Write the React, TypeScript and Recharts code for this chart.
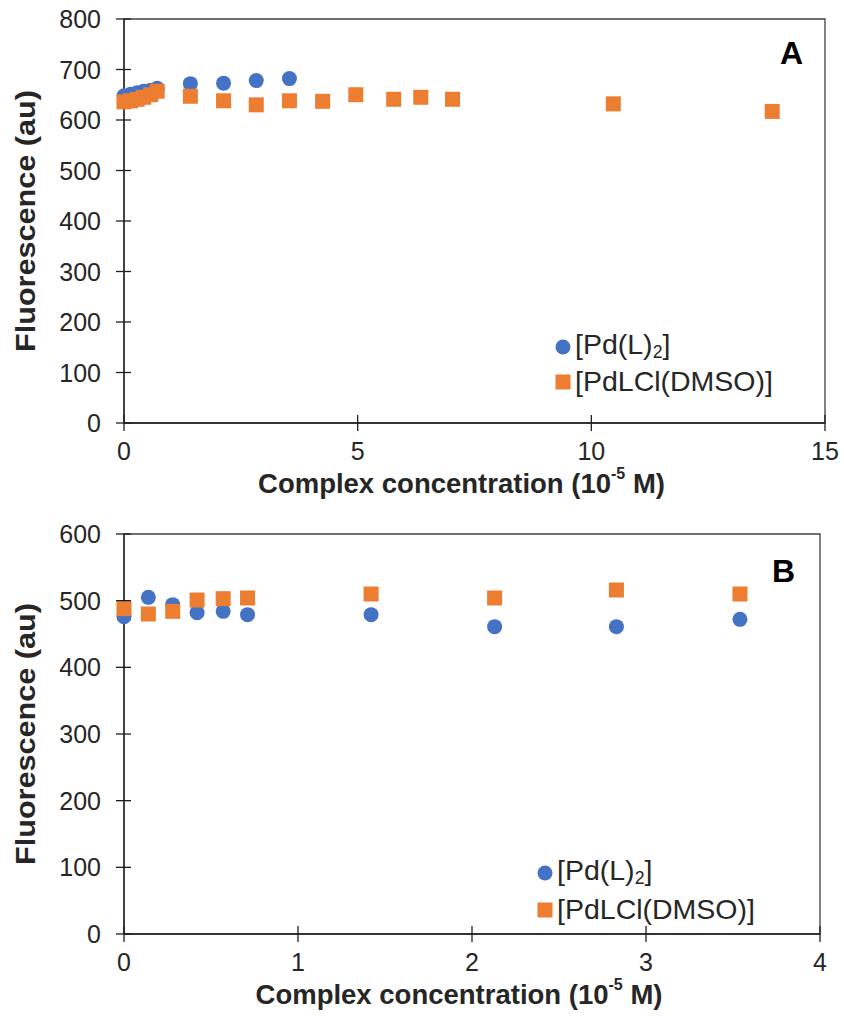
import React from "react";
import {
  ScatterChart,
  Scatter,
  XAxis,
  YAxis,
  ReferenceArea,
  Legend,
} from "recharts";

// complex concentration (10^-5 M) and fluorescence (au)
const concA_PdL2 = [0, 0.14, 0.28, 0.42, 0.57, 0.71, 1.42, 2.13, 2.83, 3.54];
const fluoA_PdL2 = [648, 651, 654, 657, 659, 663, 672, 673, 678, 682];
const concA_PdLCl = [
  0, 0.14, 0.28, 0.42, 0.57, 0.71, 1.42, 2.13, 2.83, 3.54, 4.25, 4.96, 5.77,
  6.35, 7.03, 10.47, 13.87,
];
const fluoA_PdLCl = [
  636, 638, 641, 645, 650, 657, 647, 638, 630, 638, 637, 650, 641, 645, 641,
  632, 617,
];

const concB = [0, 0.14, 0.28, 0.42, 0.57, 0.71, 1.42, 2.13, 2.83, 3.54];
const fluoB_PdL2 = [476, 505, 494, 482, 484, 479, 479, 461, 461, 472];
const fluoB_PdLCl = [488, 480, 484, 501, 503, 504, 510, 504, 516, 510];

const seriesNames = ["[Pd(L)2]", "[PdLCl(DMSO)]"];

const xTicksA = [0, 5, 10, 15];
const yTicksA = [0, 100, 200, 300, 400, 500, 600, 700, 800];
const xTicksB = [0, 1, 2, 3, 4];
const yTicksB = [0, 100, 200, 300, 400, 500, 600];

const FONT = "'Liberation Sans', Arial, sans-serif";
const BLUE = "#4472C4";
const ORANGE = "#ED7D31";
const AXIS = "#1f1f1f";
const FRAME = "#404040";
const TEXT = "#262626";

const toPoints = (xs: number[], ys: number[]) =>
  xs.map((x, i) => ({ x, y: ys[i] }));

const Dot = (p: any) => <circle cx={p.cx} cy={p.cy} r={7.5} fill={BLUE} />;
const Square = (p: any) => (
  <rect x={p.cx - 7.5} y={p.cy - 7.5} width={15} height={15} fill={ORANGE} />
);

const YTick = (p: any) => (
  <g>
    <line x1={p.x - 8} x2={p.x + 7} y1={p.y} y2={p.y} stroke={AXIS} strokeWidth={1.3} />
    <text
      x={p.x - 23}
      y={p.y}
      textAnchor="end"
      dominantBaseline="central"
      fontSize={25}
      fontFamily={FONT}
      fill={TEXT}
    >
      {p.payload.value}
    </text>
  </g>
);

const XTick = (p: any) => (
  <g>
    <line x1={p.x} x2={p.x} y1={p.y - 8} y2={p.y + 8} stroke={AXIS} strokeWidth={1.3} />
    <text
      x={p.x}
      y={p.y + 28}
      textAnchor="middle"
      dominantBaseline="central"
      fontSize={25}
      fontFamily={FONT}
      fill={TEXT}
    >
      {p.payload.value}
    </text>
  </g>
);

const yTitle = (p: any) => {
  const vb = p.viewBox;
  const cx = 25;
  const cy = vb.y + vb.height / 2;
  return (
    <text
      x={cx}
      y={cy}
      transform={`rotate(-90 ${cx} ${cy})`}
      textAnchor="middle"
      dominantBaseline="central"
      fontSize={28}
      fontWeight="bold"
      fontFamily={FONT}
      fill={TEXT}
      textLength={262}
      lengthAdjust="spacingAndGlyphs"
    >
      Fluorescence (au)
    </text>
  );
};

const xTitle = (p: any) => {
  const vb = p.viewBox;
  return (
    <text
      x={vb.x + vb.width / 2 - 13}
      y={vb.y + 60}
      textAnchor="middle"
      dominantBaseline="central"
      fontSize={27.5}
      fontWeight="bold"
      fontFamily={FONT}
      fill={TEXT}
    >
      Complex concentration (10
      <tspan dy={-10} fontSize={16}>
        -5
      </tspan>
      <tspan dy={10}>{" M)"}</tspan>
    </text>
  );
};

const nameWithSub = (name: string) => {
  const m = name.match(/^(.*\))(\d)(\])$/);
  if (!m) return name;
  return (
    <>
      {m[1]}
      <sub style={{ fontSize: "0.62em", verticalAlign: "-0.25em" }}>{m[2]}</sub>
      {m[3]}
    </>
  );
};

const makeLegend = (rowGap: number) => (props: any) => (
  <div style={{ fontFamily: FONT, fontSize: 28.5, color: TEXT, lineHeight: 1 }}>
    {(props.payload || []).map((e: any, i: number) => (
      <div
        key={e.value}
        style={{ display: "flex", alignItems: "center", height: rowGap }}
      >
        <svg width={16} height={16} style={{ marginRight: 4 }}>
          {i === 0 ? (
            <circle cx={8} cy={8} r={7.5} fill={BLUE} />
          ) : (
            <rect x={0.5} y={0.5} width={15} height={15} fill={ORANGE} />
          )}
        </svg>
        <span>{nameWithSub(e.value)}</span>
      </div>
    ))}
  </div>
);

const panelLabel = (text: string, offset: number) => ({
  value: text,
  position: "insideTopRight" as const,
  offset,
  fontSize: 32,
  fontWeight: "bold",
  fontFamily: FONT,
  fill: "#000",
});

export default function App() {
  return (
    <div
      style={{
        position: "absolute",
        left: 0,
        top: 0,
        width: 844,
        height: 1018,
        background: "#fff",
      }}
    >
      <ScatterChart
        width={844}
        height={510}
        margin={{ top: 19, right: 19, bottom: 7, left: 0 }}
      >
        <XAxis
          type="number"
          dataKey="x"
          domain={[0, 15]}
          ticks={xTicksA}
          interval={0}
          tickSize={0}
          tickMargin={0}
          tick={XTick}
          height={80}
          axisLine={{ stroke: AXIS, strokeWidth: 1.3 }}
          label={xTitle}
        />
        <YAxis
          type="number"
          dataKey="y"
          domain={[0, 800]}
          ticks={yTicksA}
          interval={0}
          tickSize={0}
          tickMargin={0}
          tick={YTick}
          width={124}
          axisLine={{ stroke: AXIS, strokeWidth: 1.3 }}
          label={yTitle}
        />
        <ReferenceArea
          x1={0}
          x2={15}
          y1={0}
          y2={800}
          stroke={FRAME}
          strokeWidth={1.3}
          fill="none"
          label={panelLabel("A", 22)}
        />
        <Scatter
          name={seriesNames[0]}
          data={toPoints(concA_PdL2, fluoA_PdL2)}
          fill={BLUE}
          shape={Dot}
          isAnimationActive={false}
        />
        <Scatter
          name={seriesNames[1]}
          data={toPoints(concA_PdLCl, fluoA_PdLCl)}
          fill={ORANGE}
          shape={Square}
          isAnimationActive={false}
        />
        <Legend
          layout="vertical"
          align="center"
          verticalAlign="middle"
          content={makeLegend(35)}
          wrapperStyle={{ left: 555, top: 329, width: 280 }}
        />
      </ScatterChart>

      <ScatterChart
        width={844}
        height={508}
        margin={{ top: 24, right: 24, bottom: 4, left: 0 }}
      >
        <XAxis
          type="number"
          dataKey="x"
          domain={[0, 4]}
          ticks={xTicksB}
          interval={0}
          tickSize={0}
          tickMargin={0}
          tick={XTick}
          height={80}
          axisLine={{ stroke: AXIS, strokeWidth: 1.3 }}
          label={xTitle}
        />
        <YAxis
          type="number"
          dataKey="y"
          domain={[0, 600]}
          ticks={yTicksB}
          interval={0}
          tickSize={0}
          tickMargin={0}
          tick={YTick}
          width={124}
          axisLine={{ stroke: AXIS, strokeWidth: 1.3 }}
          label={yTitle}
        />
        <ReferenceArea
          x1={0}
          x2={4}
          y1={0}
          y2={600}
          stroke={FRAME}
          strokeWidth={1.3}
          fill="none"
          label={panelLabel("B", 25)}
        />
        <Scatter
          name={seriesNames[0]}
          data={toPoints(concB, fluoB_PdL2)}
          fill={BLUE}
          shape={Dot}
          isAnimationActive={false}
        />
        <Scatter
          name={seriesNames[1]}
          data={toPoints(concB, fluoB_PdLCl)}
          fill={ORANGE}
          shape={Square}
          isAnimationActive={false}
        />
        <Legend
          layout="vertical"
          align="center"
          verticalAlign="middle"
          content={makeLegend(37)}
          wrapperStyle={{ left: 537, top: 344, width: 280 }}
        />
      </ScatterChart>
    </div>
  );
}
